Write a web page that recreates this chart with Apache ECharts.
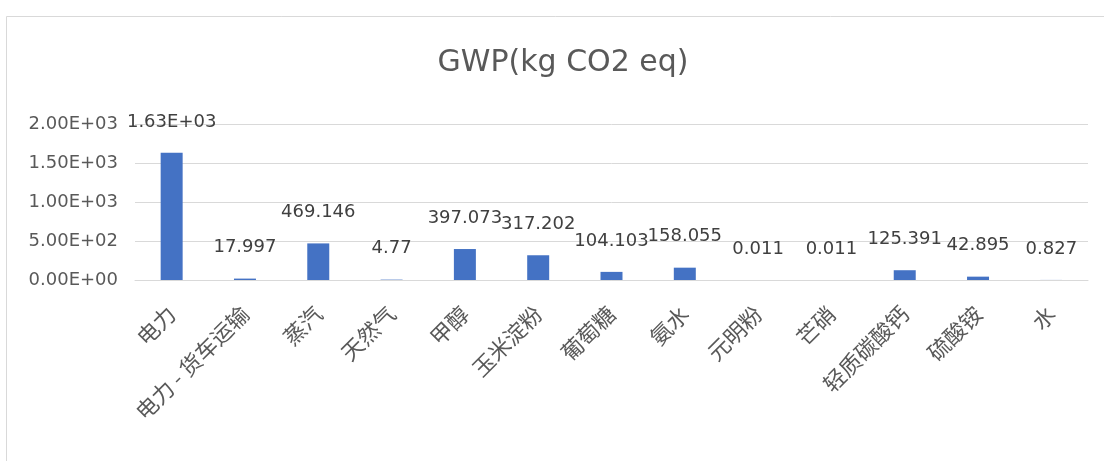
<!DOCTYPE html>
<html>
<head>
<meta charset="utf-8">
<script src="https://cdn.jsdelivr.net/npm/echarts@6/dist/echarts.min.js"></script>
<style>
  html, body { margin: 0; padding: 0; background: #fff; }
  #chart { width: 1104px; height: 461px; }
</style>
</head>
<body>
<div id="chart"></div>
<script>
const categories = ['电力', '电力 - 货车运输', '蒸汽', '天然气', '甲醇', '玉米淀粉', '葡萄糖', '氨水', '元明粉', '芒硝', '轻质碳酸钙', '硫酸铵', '水']
const gwpValues = [1630, 17.997, 469.146, 4.77, 397.073, 317.202, 104.103, 158.055, 0.011, 0.011, 125.391, 42.895, 0.827]
const yTicks = [0, 500, 1000, 1500, 2000]

// Excel style scientific notation, e.g. 1.63E+03
function sci(v) {
  const parts = v.toExponential(2).toUpperCase().split('E')
  const sign = parts[1][0]
  let exp = parts[1].slice(1)
  if (exp.length < 2) exp = '0' + exp
  return parts[0] + 'E' + sign + exp
}

const chart = echarts.init(document.getElementById('chart'))
const font = '"DejaVu Sans", "Noto Sans CJK SC", sans-serif'
const cjkFont = '"Noto Sans CJK SC", sans-serif'

chart.setOption({
  backgroundColor: '#fff',
  animation: false,
  textStyle: { fontFamily: font },
  graphic: [
    {
      type: 'rect',
      left: 4,
      top: 14,
      shape: { width: 1120, height: 470 },
      style: { fill: 'none', stroke: '#d9d9d9', lineWidth: 1 }
    }
  ],
  title: {
    text: 'GWP(kg CO2 eq)',
    left: 558,
    textAlign: 'center',
    top: 43,
    textStyle: {
      fontFamily: font,
      fontSize: 30,
      fontWeight: 'normal',
      color: '#595959'
    }
  },
  grid: {
    left: 135,
    right: 16,
    top: 124,
    bottom: 181,
    containLabel: false
  },
  xAxis: {
    type: 'category',
    data: categories,
    axisLine: { lineStyle: { color: '#d9d9d9' } },
    axisTick: { show: false },
    axisLabel: {
      rotate: 45,
      interval: 0,
      fontSize: 22,
      color: '#595959',
      margin: 30,
      fontFamily: cjkFont
    }
  },
  yAxis: {
    type: 'value',
    min: yTicks[0],
    max: yTicks[yTicks.length - 1],
    interval: 500,
    axisLine: { show: false },
    axisTick: { show: false },
    splitLine: { lineStyle: { color: '#d9d9d9' } },
    axisLabel: {
      fontSize: 18,
      color: '#595959',
      margin: 17,
      fontFamily: font,
      formatter: sci
    }
  },
  series: [
    {
      type: 'bar',
      data: gwpValues,
      barWidth: '30%',
      itemStyle: { color: '#4472c4' },
      label: {
        show: true,
        position: 'top',
        distance: 22,
        fontSize: 18,
        color: '#404040',
        fontFamily: font,
        formatter(p) {
          return p.value >= 1000 ? sci(p.value) : String(p.value)
        }
      }
    }
  ]
})
</script>
</body>
</html>
